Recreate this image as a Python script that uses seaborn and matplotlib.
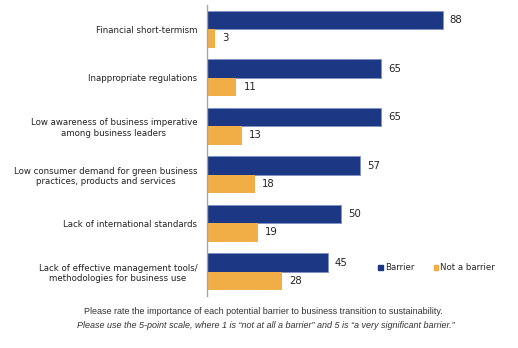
import matplotlib
matplotlib.use("Agg")
import matplotlib.pyplot as plt
import seaborn as sns
import pandas as pd
from matplotlib.patches import Patch

categories = [
    "Financial short-termism",
    "Inappropriate regulations",
    "Low awareness of business imperative\namong business leaders",
    "Low consumer demand for green business\npractices, products and services",
    "Lack of international standards",
    "Lack of effective management tools/\nmethodologies for business use",
]
barrier = [88, 65, 65, 57, 50, 45]
not_barrier = [3, 11, 13, 18, 19, 28]
series = ["Barrier", "Not a barrier"]
colors = ["#1C3783", "#F2AE46"]

df = pd.DataFrame({
    "category": categories * 2,
    "value": barrier + not_barrier,
    "series": [series[0]] * len(categories) + [series[1]] * len(categories),
})

sns.set_style("white")
plt.rcParams["font.family"] = ["DejaVu Sans"]

fig = plt.figure(figsize=(5.18, 3.48), dpi=100)
ax = fig.add_axes([207 / 518, 1 - 296 / 348, 268 / 518, 291 / 348])

sns.barplot(data=df, x="value", y="category", hue="series", order=categories,
            hue_order=series, palette=colors, orient="h", width=0.76,
            saturation=1, ax=ax, legend=False, linewidth=0.6, edgecolor="#7F92C4")
for patch in ax.containers[1]:
    patch.set_edgecolor(colors[1])
    patch.set_linewidth(0)

for cont in ax.containers:
    ax.bar_label(cont, padding=5, fontsize=7.3, color="#222222")

ax.set_xlim(0, 100)
ax.set_ylim(len(categories) - 0.5, -0.5)
ax.set_xlabel("")
ax.set_ylabel("")
ax.set_xticks([])
for s in ["top", "right", "bottom"]:
    ax.spines[s].set_visible(False)
ax.spines["left"].set_color("#A6A6A6")
ax.spines["left"].set_linewidth(1)

ax.set_yticks(range(len(categories)))
ax.set_yticklabels(categories, fontsize=6.2, color="#222222", multialignment="center")
ax.tick_params(axis="y", which="major", length=0, pad=7)
ax.set_yticks([i - 0.5 for i in range(len(categories) + 1)], minor=True)
ax.tick_params(axis="y", which="minor", length=3, color="#A6A6A6", width=1)

handles = [Patch(facecolor=c, edgecolor=c) for c in colors]
fig.legend(handles, series, loc="center left", bbox_to_anchor=(374 / 518, 1 - 268 / 348),
           ncol=2, frameon=False, fontsize=6.2, handlelength=0.55, handleheight=0.55,
           handletextpad=0.25, columnspacing=2.2, borderpad=0)

fig.text(263 / 518, 1 - 312 / 348,
         "Please rate the importance of each potential barrier to business transition to sustainability.",
         ha="center", va="center", fontsize=6.5, color="#333333", family="Liberation Sans")
fig.text(266 / 518, 1 - 326 / 348,
         "Please use the 5-point scale, where 1 is \u201cnot at all a barrier\u201d and 5 is \u201ca very significant barrier.\u201d",
         ha="center", va="center", fontsize=6.5, color="#333333", style="italic", family="Liberation Sans")

fig.savefig("out.png", dpi=100)
